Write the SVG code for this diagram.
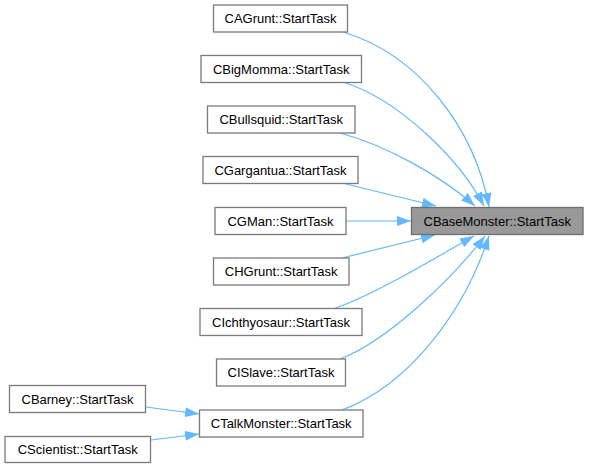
<svg xmlns="http://www.w3.org/2000/svg" width="589" height="468" viewBox="0 0 589 468">
<defs>
<marker id="arr" viewBox="0 0 14 10" refX="14" refY="5" markerWidth="14" markerHeight="10" markerUnits="userSpaceOnUse" orient="auto">
<path d="M0,0 L14,5 L0,10 z" fill="#63b8ff"/>
</marker>
<style>
.n rect{fill:#ffffff;stroke:#7a7a7a;stroke-width:1.3}
.n.root rect{fill:#999999;stroke:#6e6e6e}
.n text{font-family:"Liberation Sans",Arial,sans-serif;font-size:13px;fill:#000000;text-anchor:middle}
.e path{fill:none;stroke:#63b8ff;stroke-width:1.2;marker-end:url(#arr)}
</style>
</defs>
<rect x="0" y="0" width="589" height="468" fill="#ffffff"/>
<g class="e" id="edges">
<path d="M343,32 C420,55 475,130 489,207"/>
<path d="M343,82 C400,100 460,160 484,206"/>
<path d="M340,133 C385,145 440,175 475,206"/>
<path d="M342,183 L436,206"/>
<path d="M346,221 L411,221"/>
<path d="M342,258 L435,235"/>
<path d="M333,309 C375,295 440,255 474,236"/>
<path d="M340,359 C390,340 455,275 485,236"/>
<path d="M342,410 C410,385 465,310 489,236"/>
<path d="M146,407 L199,414"/>
<path d="M151,440 L199,434"/>
</g>
<g class="n" id="CAGrunt"><rect x="213.5" y="5" width="134" height="27"/><text x="280.5" y="23">CAGrunt::StartTask</text></g>
<g class="n" id="CBigMomma"><rect x="201" y="55.5" width="160.5" height="27"/><text x="281.2" y="73.5">CBigMomma::StartTask</text></g>
<g class="n" id="CBullsquid"><rect x="207.5" y="106" width="147.5" height="27"/><text x="281.2" y="124">CBullsquid::StartTask</text></g>
<g class="n" id="CGargantua"><rect x="203" y="156.5" width="155" height="27"/><text x="280.5" y="174.5">CGargantua::StartTask</text></g>
<g class="n" id="CGMan"><rect x="215" y="207.5" width="131" height="27"/><text x="280.5" y="225.5">CGMan::StartTask</text></g>
<g class="n" id="CHGrunt"><rect x="213.5" y="258" width="135.5" height="27"/><text x="281.2" y="276">CHGrunt::StartTask</text></g>
<g class="n" id="CIchthyosaur"><rect x="200" y="308.5" width="162" height="27"/><text x="281" y="326.5">CIchthyosaur::StartTask</text></g>
<g class="n" id="CISlave"><rect x="216.5" y="359" width="129" height="27"/><text x="281" y="377">CISlave::StartTask</text></g>
<g class="n" id="CTalkMonster"><rect x="199.5" y="410" width="163.5" height="27"/><text x="281.2" y="428">CTalkMonster::StartTask</text></g>
<g class="n" id="CBarney"><rect x="9.5" y="385.5" width="136" height="27"/><text x="77.5" y="403.5">CBarney::StartTask</text></g>
<g class="n" id="CScientist"><rect x="5" y="436.5" width="145.5" height="26"/><text x="77.7" y="454">CScientist::StartTask</text></g>
<g class="n root" id="CBaseMonster"><rect x="411.5" y="207.5" width="171.5" height="27"/><text x="497.2" y="225.5">CBaseMonster::StartTask</text></g>
</svg>
